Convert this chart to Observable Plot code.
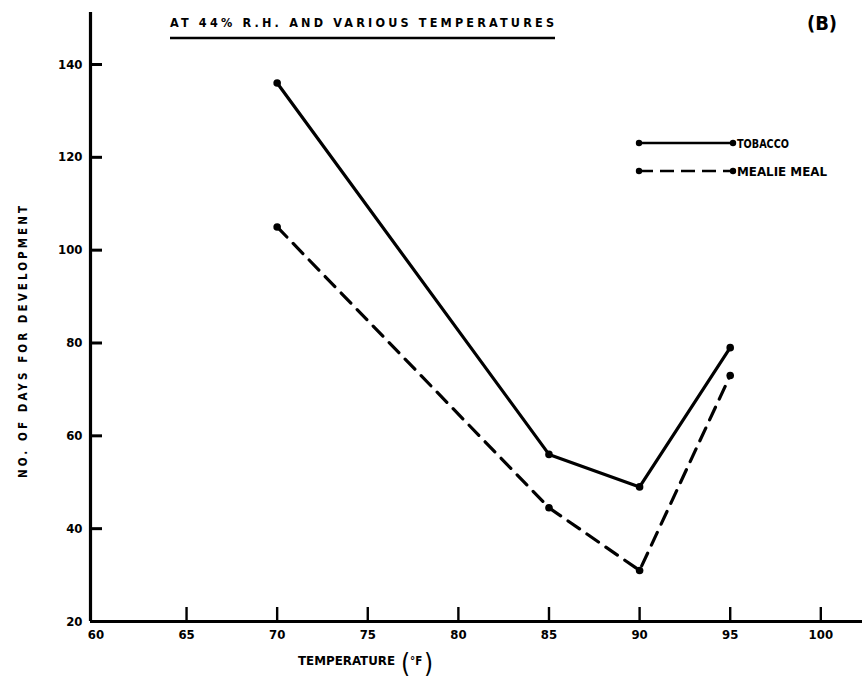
<!DOCTYPE html>
<html><head><meta charset="utf-8">
<script src="https://cdn.jsdelivr.net/npm/d3@7"></script>
<script src="https://cdn.jsdelivr.net/npm/@observablehq/plot@0.6"></script>
<style>
body{margin:0;background:#fff;}
#wrap{position:relative;width:864px;height:690px;background:#fff;}
#wrap > svg{position:absolute;left:0;top:0;}
</style></head><body><div id="wrap"></div>
<script>
// ---- data ----
const temperatures = [70, 85, 90, 95];
const tobaccoDays = [136, 56, 49, 79];
const mealieDays = [105, 44.5, 31, 73];
const seriesNames = ["TOBACCO", "MEALIE MEAL"];
const xTicks = [65, 70, 75, 80, 85, 90, 95, 100];
const xTickLabels = [60, 65, 70, 75, 80, 85, 90, 95, 100];
const yTicks = [40, 60, 80, 100, 120, 140];
const yTickLabels = [20, 40, 60, 80, 100, 120, 140];
const titleText = "AT  44% R.H. AND VARIOUS  TEMPERATURES";
const panelLabel = "(B)";
const xTitle = "TEMPERATURE";
const xUnit = "°F";
const yTitle = "NO. OF DAYS FOR DEVELOPMENT";

const xDomain = [59.7, 102.3];
const yDomain = [20, 151.2];

const rows = [
  ...temperatures.map((t, i) => ({series: seriesNames[0], temp: t, days: tobaccoDays[i]})),
  ...temperatures.map((t, i) => ({series: seriesNames[1], temp: t, days: mealieDays[i]}))
];
const tobacco = rows.filter(d => d.series === seriesNames[0]);
const mealie = rows.filter(d => d.series === seriesNames[1]);

const font = "'DejaVu Sans Condensed','DejaVu Sans',sans-serif";

const chart = Plot.plot({
  width: 864, height: 690,
  marginLeft: 90, marginRight: 2, marginTop: 12, marginBottom: 69,
  style: {fontFamily: font, fontWeight: "bold", fontSize: "13px", color: "#000", background: "transparent"},
  x: {domain: xDomain},
  y: {domain: yDomain},
  marks: [
    // inward tick marks: outward ticks shifted back inside the frame
    Plot.axisX({ticks: xTicks, tickSize: 14, dy: -14, text: null, label: null, strokeWidth: 2.4, stroke: "#000"}),
    Plot.axisX({ticks: xTickLabels, tickSize: 0, tickPadding: 8, label: null, fontSize: 13, fontWeight: "bold"}),
    Plot.axisY({ticks: yTicks, tickSize: 12, dx: 12, text: null, label: null, strokeWidth: 3, stroke: "#000"}),
    Plot.axisY({ticks: yTickLabels, tickSize: 0, tickPadding: 8, label: null, fontSize: 13, fontWeight: "bold"}),
    Plot.ruleX(xDomain.slice(0, 1), {stroke: "#000", strokeWidth: 3.2}),
    Plot.ruleY(yDomain.slice(0, 1), {stroke: "#000", strokeWidth: 3.2}),
    Plot.line(tobacco, {x: "temp", y: "days", stroke: "#000", strokeWidth: 3.2}),
    Plot.line(mealie, {x: "temp", y: "days", stroke: "#000", strokeWidth: 3.2, strokeDasharray: "14,9"}),
    Plot.dot(rows, {x: "temp", y: "days", r: 3.8, fill: "#000", stroke: "none"})
  ]
});
const wrap = document.getElementById("wrap");
wrap.appendChild(chart);

// ---- annotation overlay: title, panel label, legend, axis titles ----
const ns = "http://www.w3.org/2000/svg";
const ov = d3.select(wrap).append("svg")
  .attr("xmlns", ns).attr("width", 864).attr("height", 690)
  .style("font-family", font).style("font-weight", "bold").style("fill", "#000");

ov.append("text").attr("x", 170).attr("y", 27).attr("font-size", 12.5)
  .attr("textLength", 384).attr("lengthAdjust", "spacing").text(titleText);
ov.append("line").attr("x1", 170).attr("x2", 555).attr("y1", 38).attr("y2", 38)
  .attr("stroke", "#000").attr("stroke-width", 2.6);

ov.append("text").attr("x", 822).attr("y", 30).attr("text-anchor", "middle")
  .attr("font-size", 20).text(panelLabel);

// legend
const legendItems = [
  {name: seriesNames[0], dash: null, y: 143, len: 52},
  {name: seriesNames[1], dash: "14,7", y: 171, len: 90}
];
legendItems.forEach(it => {
  ov.append("line").attr("x1", 639).attr("x2", 733).attr("y1", it.y).attr("y2", it.y)
    .attr("stroke", "#000").attr("stroke-width", 2.6).attr("stroke-dasharray", it.dash);
  ov.append("circle").attr("cx", 639).attr("cy", it.y).attr("r", 3.2);
  ov.append("circle").attr("cx", 733).attr("cy", it.y).attr("r", 3.2);
  ov.append("text").attr("x", 737).attr("y", it.y + 4.5).attr("font-size", 11.5)
    .attr("textLength", it.len).attr("lengthAdjust", "spacingAndGlyphs").text(it.name);
});

// x axis title
ov.append("text").attr("x", 298).attr("y", 665).attr("font-size", 11.5)
  .attr("textLength", 97).attr("lengthAdjust", "spacingAndGlyphs").text(xTitle);
ov.append("text").attr("x", 401).attr("y", 672).attr("font-size", 26).attr("font-weight", "normal").text("(");
ov.append("text").attr("x", 410).attr("y", 665).attr("font-size", 11.5).text(xUnit);
ov.append("text").attr("x", 424).attr("y", 672).attr("font-size", 26).attr("font-weight", "normal").text(")");

// y axis title
ov.append("text").attr("transform", "translate(27,342) rotate(-90)")
  .attr("text-anchor", "middle").attr("font-size", 11.5)
  .attr("textLength", 272).attr("lengthAdjust", "spacing").text(yTitle);
</script>
</body></html>
